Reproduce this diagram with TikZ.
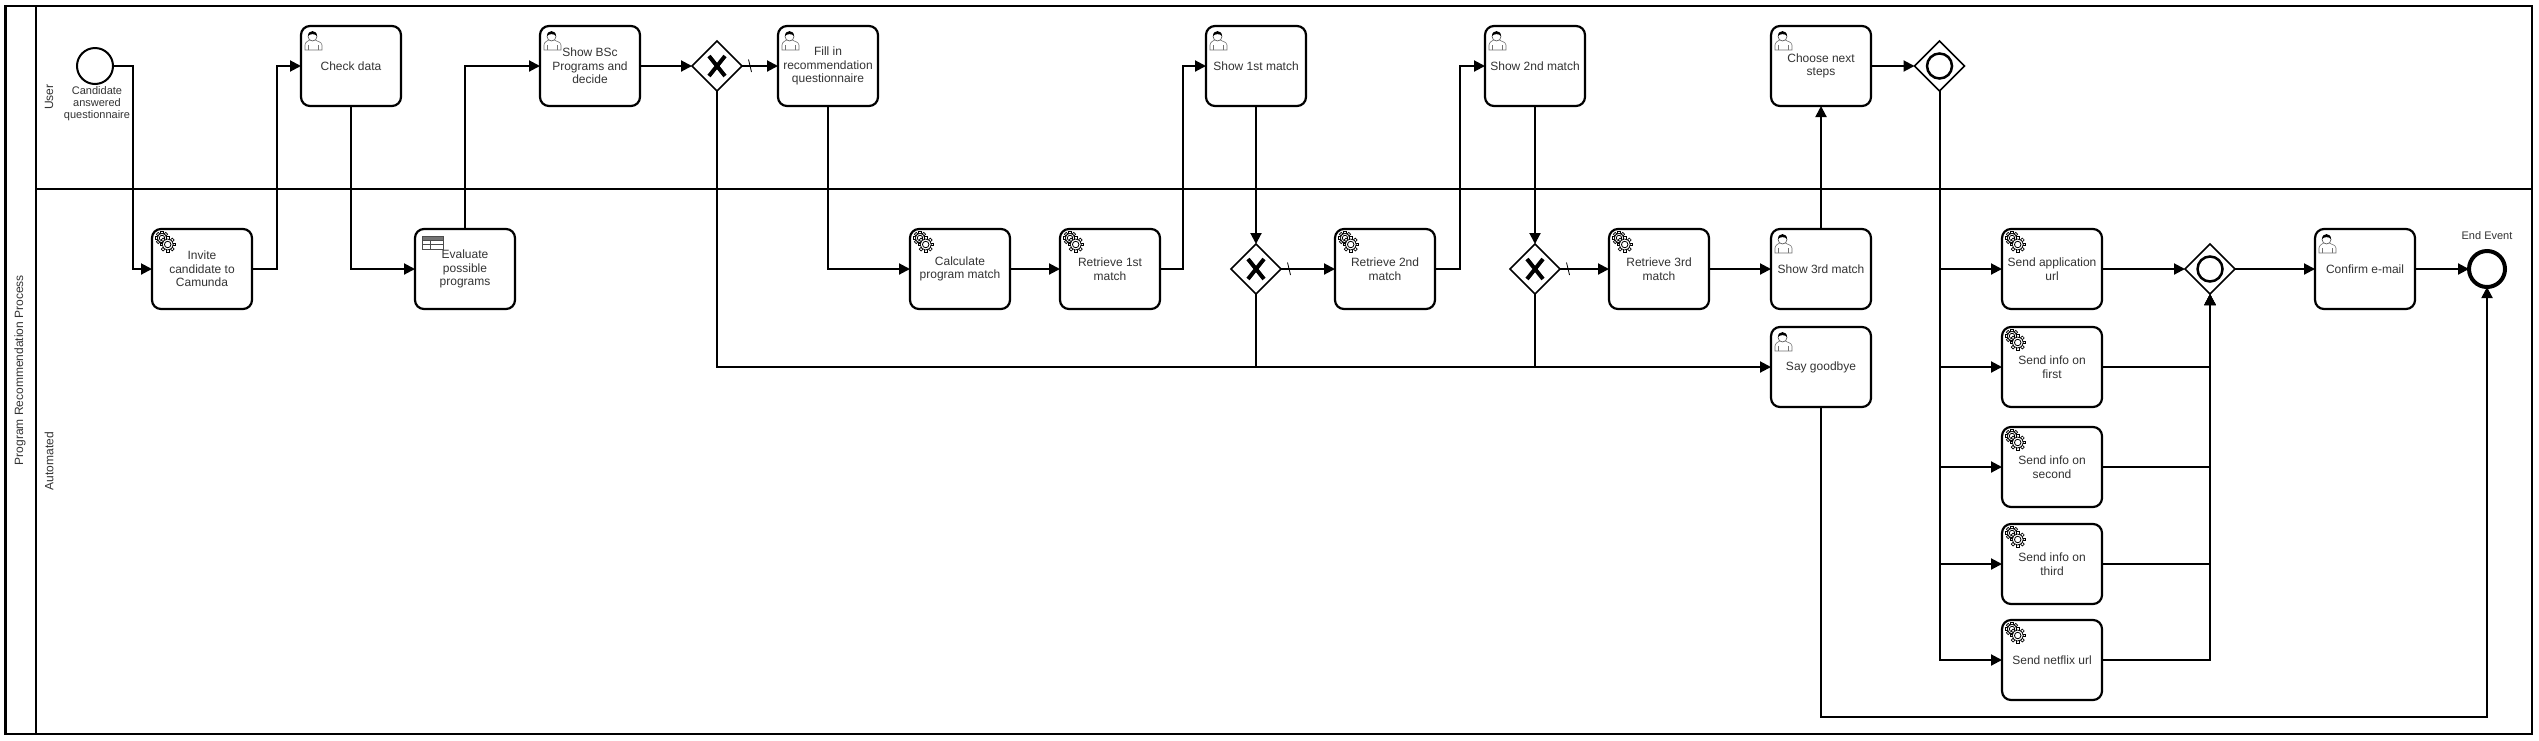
\documentclass[tikz,border=0pt]{standalone}
\usepackage{fontspec}
\setmainfont{Liberation Sans}
\usepackage{tikz}
\usetikzlibrary{arrows.meta, shapes.geometric}

\tikzset{
    usericon/.pic={
        \draw[line width=0.6, black!55, fill=white] (4,24) -- (4,19) .. controls (4.5,15.5) and (7,15.5) .. (8.5,14) -- (14.5,14) .. controls (16,15.5) and (20.5,15.5) .. (21,19) -- (21,24) -- cycle;
        \draw[line width=0.6, black!55] (7.5,24) -- (7.5,19) (17.5,24) -- (17.5,19);
        \draw[line width=0.6, black!70, fill=white] (11.5,10.5) circle (4.5);
        \fill[black] (7,10) .. controls (7,3.5) and (16,3.5) .. (16,10) .. controls (14,7.5) and (9,7.5) .. (7,10) -- cycle;
    },
    gearshape/.pic={
        \foreach \a in {0,45,...,315} {
            \draw[line width=0.7, fill=white, rotate=\a] (-1.3,0.75*\gearsize) rectangle (1.3,1.2*\gearsize);
        }
        \draw[line width=0.7, fill=white] (0,0) circle (0.85*\gearsize);
        \draw[line width=0.8] (0,0) circle (0.5*\gearsize);
    },
    gearicon/.pic={
        \def\gearsize{5.5}
        \pic at (10,9) {gearshape};
        \def\gearsize{6.5}
        \pic at (15.7,15.5) {gearshape};
    },
    tableicon/.pic={
        \fill[black!55] (7.7,7) rectangle (28.3,11);
        \draw[line width=0.9, black!70] (7.7,7) rectangle (28.3,20) (7.7,11) -- (28.3,11) (7.7,15.5) -- (28.3,15.5) (15,11) -- (15,20);
    }
}

\begin{document}
\begin{tikzpicture}[x=1pt, y=-1pt,
    task/.style={draw, rectangle, rounded corners=9pt, fill=white, line width=2.2pt, minimum width=100pt, minimum height=80pt, inner sep=0pt, outer sep=0pt, align=center, text=black!80, font=\fontsize{12}{13.5}\selectfont},
    gateway/.style={draw, diamond, fill=white, line width=1.7pt, minimum width=50pt, minimum height=50pt, inner sep=0pt, outer sep=0pt},
    event/.style={draw, circle, fill=white, minimum size=36pt, inner sep=0pt, outer sep=0pt},
    caption/.style={inner sep=0pt, align=center, text=black!80, font=\fontsize{11}{12}\selectfont},
    lanename/.style={inner sep=0pt, rotate=90, text=black!80, font=\fontsize{12}{14}\selectfont},
    flow/.style={line width=2pt, -{Triangle[length=11pt, width=11pt]}},
    plainflow/.style={line width=2pt},
    crossmark/.style={line width=4pt, line cap=butt},
    slashmark/.style={line width=0.8pt}]
    \useasboundingbox (0,0) rectangle (2539,740);
    \fill[white] (0,0) rectangle (2539,740);

    % pool and lanes
    \draw[line width=2.2pt] (5.5,5.7) rectangle (2532,734);
    \draw[line width=2.2pt] (35.7,5.7) -- (35.7,734);
    \draw[line width=2.2pt] (35.7,188.7) -- (2532,188.7);
    \node[lanename] (poolname) at (20,370) {Program Recommendation Process};
    \node[lanename] (username) at (49,97) {User};
    \node[lanename] (autoname) at (49,461) {Automated};

    % connectors
    \coordinate (startbend) at (132.7,66);
    \coordinate (invitebend) at (277,269);
    \coordinate (firstbend) at (1183,269);
    \coordinate (secondbend) at (1460,269);
    \coordinate (endbend) at (2487,717);
    \node[event, line width=2pt] (start) at (95,66) {};
    \node[task] (check) at (351,66) {Check data};
    \node[task] (showbsc) at (590,66) {Show BSc\\Programs and\\decide};
    \node[gateway] (gwone) at (717,66) {};
    \node[task] (fillin) at (828,66) {Fill in\\recommendation\\questionnaire};
    \node[task] (showfirst) at (1256,66) {Show 1st match};
    \node[task] (showsecond) at (1535,66) {Show 2nd match};
    \node[task] (choose) at (1821,66) {Choose next\\steps};
    \node[gateway] (gwfour) at (1939.5,66) {};

    \node[task] (invite) at (202,269) {Invite\\candidate to\\Camunda};
    \node[task] (evaluate) at (465,269) {Evaluate\\possible\\programs};
    \node[task] (calculate) at (960,269) {Calculate\\program match};
    \node[task] (retrievefirst) at (1110,269) {Retrieve 1st\\match};
    \node[gateway] (gwtwo) at (1256,269) {};
    \node[task] (retrievesecond) at (1385,269) {Retrieve 2nd\\match};
    \node[gateway] (gwthree) at (1535,269) {};
    \node[task] (retrievethird) at (1659,269) {Retrieve 3rd\\match};
    \node[task] (showthird) at (1821,269) {Show 3rd match};
    \node[task] (application) at (2052,269) {Send application\\url};
    \node[gateway] (gwfive) at (2210,269) {};
    \node[task] (confirm) at (2365,269) {Confirm e-mail};
    \node[event, line width=4pt] (finish) at (2487,269) {};

    \node[task] (goodbye) at (1821,367) {Say goodbye};
    \node[task] (infofirst) at (2052,367) {Send info on\\first};
    \node[task] (infosecond) at (2052,467) {Send info on\\second};
    \node[task] (infothird) at (2052,564) {Send info on\\third};
    \node[task] (netflix) at (2052,660) {Send netflix url};

    \node[caption] (startlabel) at (97,104) {Candidate\\answered\\questionnaire};
    \node[caption] (endlabel) at (2487,236) {End Event};

    \draw[flow] (start.east) -- (startbend) |- (invite.west);
    \draw[flow] (invite.east) -- (invitebend) |- (check.west);
    \draw[flow] (check.south) |- (evaluate.west);
    \draw[flow] (evaluate.north) |- (showbsc.west);
    \draw[flow] (showbsc.east) -- (gwone.west);
    \draw[flow] (gwone.east) -- (fillin.west);
    \draw[flow] (gwone.south) |- (goodbye.west);
    \draw[flow] (fillin.south) |- (calculate.west);
    \draw[flow] (calculate.east) -- (retrievefirst.west);
    \draw[flow] (retrievefirst.east) -- (firstbend) |- (showfirst.west);
    \draw[flow] (showfirst.south) -- (gwtwo.north);
    \draw[flow] (gwtwo.east) -- (retrievesecond.west);
    \draw[plainflow] (gwtwo.south) -- (gwtwo.south |- goodbye.west);
    \draw[flow] (retrievesecond.east) -- (secondbend) |- (showsecond.west);
    \draw[flow] (showsecond.south) -- (gwthree.north);
    \draw[flow] (gwthree.east) -- (retrievethird.west);
    \draw[plainflow] (gwthree.south) -- (gwthree.south |- goodbye.west);
    \draw[flow] (retrievethird.east) -- (showthird.west);
    \draw[flow] (showthird.north) -- (choose.south);
    \draw[flow] (choose.east) -- (gwfour.west);
    \foreach \t in {application, infofirst, infosecond, infothird, netflix} {
        \draw[flow] (gwfour.south) |- (\t.west);
    }
    \draw[flow] (application.east) -- (gwfive.west);
    \foreach \t in {infofirst, infosecond, infothird, netflix} {
        \draw[flow] (\t.east) -| (gwfive.south);
    }
    \draw[flow] (gwfive.east) -- (confirm.west);
    \draw[flow] (confirm.east) -- (finish.west);
    \draw[flow] (goodbye.south) |- (endbend) -- (finish.south);

    % markers
    \foreach \g in {gwone, gwtwo, gwthree} {
        \draw[crossmark] ([shift={(-8,-10)}]\g.center) -- ([shift={(8,10)}]\g.center);
        \draw[crossmark] ([shift={(8,-10)}]\g.center) -- ([shift={(-8,10)}]\g.center);
        \draw[slashmark] ([shift={(6.5,-6.5)}]\g.east) -- ([shift={(9.5,6)}]\g.east);
    }
    \foreach \g in {gwfour, gwfive} {
        \draw[line width=2.5pt] (\g.center) circle (12.5);
    }
    \foreach \t in {check, showbsc, fillin, showfirst, showsecond, choose, showthird, goodbye, confirm} {
        \pic at (\t.north west) {usericon};
    }
    \foreach \t in {invite, calculate, retrievefirst, retrievesecond, retrievethird, application, infofirst, infosecond, infothird, netflix} {
        \pic at (\t.north west) {gearicon};
    }
    \pic at (evaluate.north west) {tableicon};
\end{tikzpicture}
\end{document}
